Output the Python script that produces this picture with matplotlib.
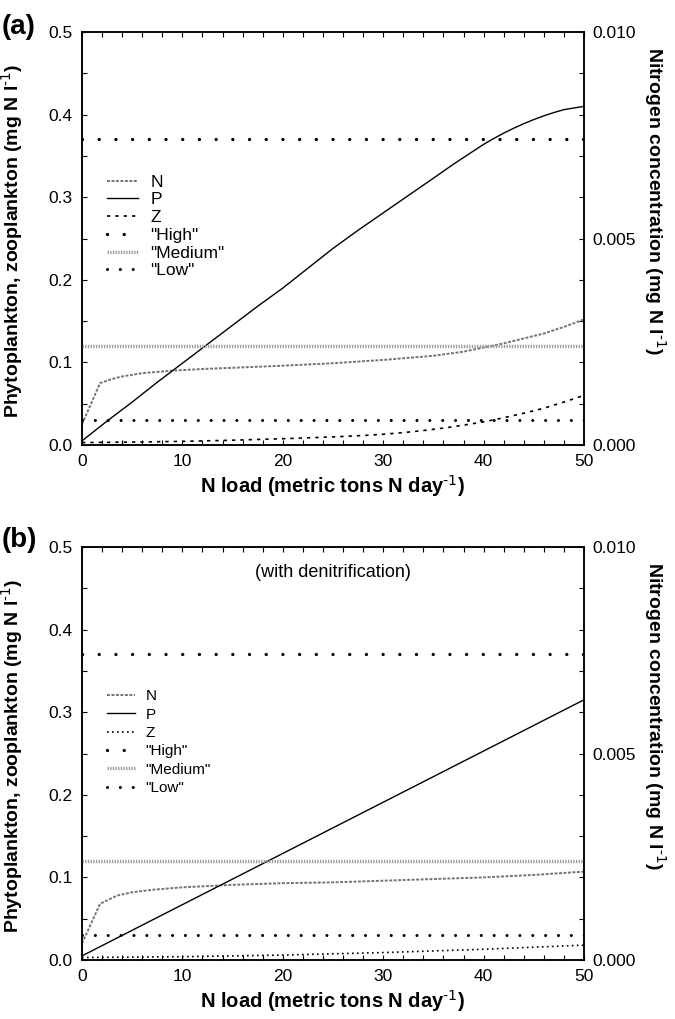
import matplotlib
matplotlib.use('Agg')
import matplotlib.pyplot as plt
from matplotlib.ticker import MultipleLocator, FormatStrFormatter
from matplotlib.lines import Line2D

plt.rcParams['font.family'] = ['Liberation Sans', 'DejaVu Sans']
plt.rcParams['mathtext.default'] = 'regular'
plt.rcParams['axes.unicode_minus'] = False
NARROW = ['Liberation Sans Narrow', 'Liberation Sans']

# ---- data ----
# panel (a)
x_p_a = [0, 2.5, 5, 7.5, 10, 12.5, 15, 17.5, 20, 22.5, 25, 27.5, 30, 32.5, 35,
         37, 38, 39, 40, 41, 42, 43, 44, 45, 46, 47, 48, 49, 50]
p_a = [0.005, 0.029, 0.052, 0.076, 0.099, 0.122, 0.145, 0.168, 0.19, 0.214, 0.238,
       0.26, 0.281, 0.302, 0.323, 0.340, 0.348, 0.356, 0.364, 0.371, 0.3775, 0.3835,
       0.389, 0.394, 0.3985, 0.4025, 0.406, 0.408, 0.41]
x_n_a = [0, 1.8, 3, 4, 6, 9, 12, 16, 20, 25, 30, 35, 38, 40, 42, 44, 46, 48, 50]
n_a = [0.0005, 0.0015, 0.0016, 0.00166, 0.00174, 0.0018, 0.00184, 0.00188, 0.00192,
       0.00198, 0.00206, 0.00216, 0.00226, 0.00236, 0.00246, 0.00258, 0.0027, 0.00286, 0.00304]
x_z_a = [0, 5, 10, 15, 20, 25, 28, 30, 32, 34, 36, 38, 40, 42, 44, 46, 48, 50]
z_a = [0.003, 0.0035, 0.0044, 0.0058, 0.0076, 0.0098, 0.0115, 0.013, 0.015, 0.0175,
       0.0205, 0.024, 0.028, 0.033, 0.0385, 0.0445, 0.052, 0.06]

# panel (b), with denitrification
x_p_b = [0, 10, 20, 30, 40, 50]
p_b = [0.005, 0.067, 0.129, 0.191, 0.253, 0.315]
x_n_b = [0, 1.8, 3.5, 5, 7, 10, 15, 20, 25, 30, 35, 40, 45, 50]
n_b = [0.0004, 0.00136, 0.00156, 0.00164, 0.0017, 0.00176, 0.00182, 0.00186, 0.00188,
       0.00192, 0.00196, 0.002, 0.00206, 0.00214]
x_z_b = [0, 10, 20, 30, 40, 50]
z_b = [0.003, 0.004, 0.006, 0.009, 0.013, 0.018]

# threshold levels
levels = {'"High"': 0.37, '"Medium"': 0.12, '"Low"': 0.03}

fig = plt.figure(figsize=(6.75, 10.19), dpi=100)

HIGH_LS = (0, (0.01, 5.0))
LOW_LS = (0, (0.01, 4.2))
MED_LS = (0, (0.4, 0.4))
N_LS = (0, (1.5, 0.8))


def style_axis(ax, ax2):
    ax.set_xlim(0, 50)
    ax.set_ylim(0, 0.5)
    ax2.set_ylim(0, 0.010)
    ax.xaxis.set_major_locator(MultipleLocator(10))
    ax.xaxis.set_minor_locator(MultipleLocator(2))
    ax.yaxis.set_major_locator(MultipleLocator(0.1))
    ax.yaxis.set_minor_locator(MultipleLocator(0.05))
    ax.yaxis.set_major_formatter(FormatStrFormatter('%.1f'))
    ax2.yaxis.set_major_locator(MultipleLocator(0.005))
    ax2.yaxis.set_minor_locator(MultipleLocator(0.001))
    ax2.yaxis.set_major_formatter(FormatStrFormatter('%.3f'))
    ax.tick_params(which='both', direction='in', top=True, right=False,
                   length=3.5, width=0.8, labelsize=12.5, pad=6.5)
    ax2.tick_params(which='both', direction='in', length=3.5, width=0.8,
                    labelsize=12.5, pad=6)
    for a in (ax, ax2):
        for s in a.spines.values():
            s.set_linewidth(1.1)
        for lab in a.get_xticklabels() + a.get_yticklabels():
            lab.set_family(NARROW)
    ax.set_xlabel('N load (metric tons N day$^{\\text{-1}}$)', fontsize=14.5,
                  fontweight='bold', family=NARROW, labelpad=3)
    ax.set_ylabel('Phytoplankton, zooplankton (mg N l$^{\\text{-1}}$)', fontsize=14,
                  fontweight='bold')
    ax.yaxis.set_label_coords(-0.113, 0.495)
    ax2.set_ylabel('Nitrogen concentration (mg N l$^{\\text{-1}}$)', fontsize=14,
                   fontweight='bold', rotation=-90, va='center')
    ax2.yaxis.set_label_coords(1.141, 0.59)


def draw_panel(rect, xp, p, xn, n, xz, z, z_ls, leg_size, leg_space, leg_top):
    ax = fig.add_axes(rect)
    ax2 = ax.twinx()
    ax.set_zorder(ax2.get_zorder() + 1)
    ax.patch.set_visible(False)

    ax2.plot(xn, n, color='0.45', lw=1.4, ls=N_LS)
    ax.plot(xp, p, color='black', lw=1.0)
    ax.plot(xz, z, color='black', lw=1.2, ls=z_ls)
    ax.axhline(levels['"High"'], color='black', lw=2.4, ls=HIGH_LS,
               dash_capstyle='round')
    ax.axhline(levels['"Medium"'], color='0.6', lw=2.4, ls=MED_LS)
    ax.axhline(levels['"Low"'], color='black', lw=2.2, ls=LOW_LS,
               dash_capstyle='round')

    handles = [
        Line2D([], [], color='0.45', lw=1.4, ls=N_LS),
        Line2D([], [], color='black', lw=1.0),
        Line2D([], [], color='black', lw=1.2, ls=z_ls),
        Line2D([], [], color='black', lw=2.4, ls=HIGH_LS, dash_capstyle='round'),
        Line2D([], [], color='0.6', lw=2.4, ls=MED_LS),
        Line2D([], [], color='black', lw=2.2, ls=LOW_LS, dash_capstyle='round'),
    ]
    labels = ['N', 'P', 'Z'] + list(levels.keys())
    ax.legend(handles, labels, loc='upper left', bbox_to_anchor=(0.05, leg_top),
              frameon=False, fontsize=leg_size, borderpad=0, borderaxespad=0,
              handlelength=1.8, handletextpad=0.7, labelspacing=leg_space)
    style_axis(ax, ax2)
    return ax, ax2


left, width, height = 82 / 675, 502 / 675, 413 / 1019
ax_a, _ = draw_panel([left, 1 - 445 / 1019, width, height],
                     x_p_a, p_a, x_n_a, n_a, x_z_a, z_a, (0, (2, 3)), 12.5, 0.15, 0.655)
ax_b, _ = draw_panel([left, 1 - 960 / 1019, width, height],
                     x_p_b, p_b, x_n_b, n_b, x_z_b, z_b, (0, (1, 2)), 11, 0.28, 0.655)

ax_b.text(0.5, 0.938, '(with denitrification)', transform=ax_b.transAxes,
          ha='center', va='center', fontsize=13, family=NARROW)

fig.text(0.003, 1 - 27 / 1019, '(a)', ha='left', va='center', fontsize=20,
         fontweight='bold')
fig.text(0.003, 1 - 540 / 1019, '(b)', ha='left', va='center', fontsize=20,
         fontweight='bold')

fig.savefig('out.png', dpi=100)
